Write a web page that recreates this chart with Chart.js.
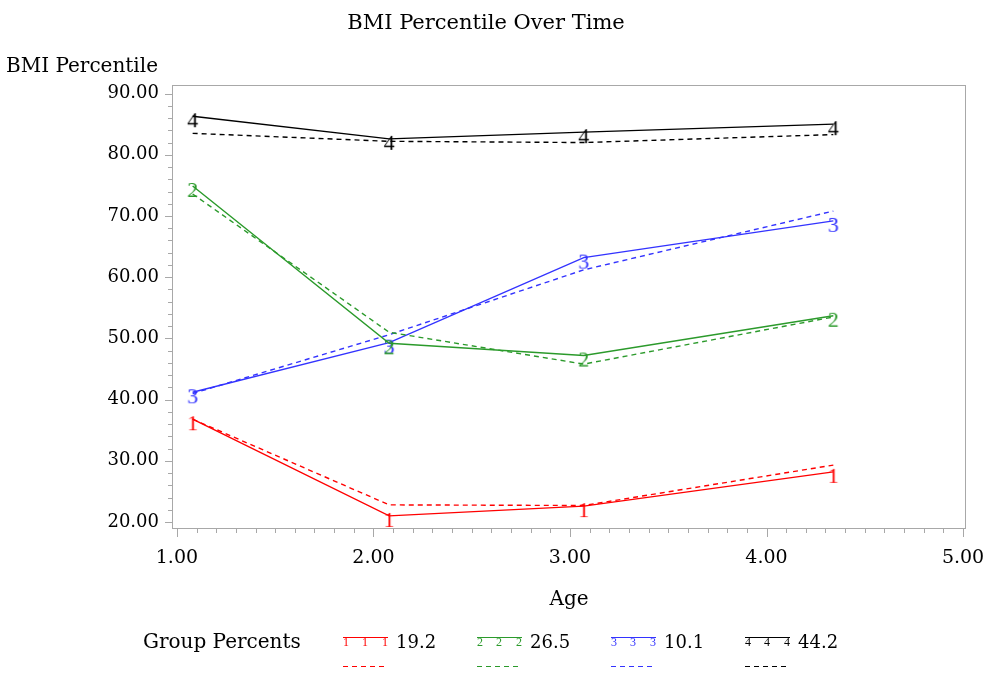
<!DOCTYPE html>
<html lang="en">
<head>
<meta charset="UTF-8">
<title>BMI Percentile Over Time</title>
<script src="https://cdn.jsdelivr.net/npm/chart.js@4.4.1/dist/chart.umd.min.js"></script>
<style>
  html, body { margin: 0; padding: 0; background: #fff; }
  #wrap { width: 985px; height: 673px; }
</style>
</head>
<body>
<div id="wrap"><canvas id="bmiChart" width="985" height="673"></canvas></div>
<script>
// ages at which the group means were taken
const ages = [1.08, 2.08, 3.07, 4.34];

// observed means (solid) and fitted trajectories (dashed)
const group1Obs = [36.8, 21.0, 22.6, 28.2];
const group1Fit = [36.8, 22.8, 22.7, 29.3];
const group2Obs = [74.9, 49.2, 47.2, 53.7];
const group2Fit = [73.6, 51.0, 45.8, 53.5];
const group3Obs = [41.2, 49.3, 63.2, 69.2];
const group3Fit = [41.0, 50.6, 61.2, 70.8];
const group4Obs = [86.3, 82.6, 83.7, 85.0];
const group4Fit = [83.5, 82.2, 82.0, 83.3];

const groupLabels = ['1', '2', '3', '4'];
const groupPercents = ['19.2', '26.5', '10.1', '44.2'];
const groupColors = ['#ff0000', '#2b9a2b', '#3333ff', '#000000'];

const yTicks = [20, 30, 40, 50, 60, 70, 80, 90];
const xTicks = [1, 2, 3, 4, 5];

const SERIF = '"DejaVu Serif", serif';
const MARK_FONT = '"Liberation Serif", serif';

// digit drawn as the point marker, sits just below the point
function digitMarker(ch, color) {
    const c = document.createElement('canvas');
    c.width = 16;
    c.height = 40;
    const g = c.getContext('2d');
    g.font = '22px ' + MARK_FONT;
    g.fillStyle = color;
    g.textAlign = 'center';
    g.textBaseline = 'alphabetic';
    g.fillText(ch, 8, 31);
    return c;
}

const obs = [group1Obs, group2Obs, group3Obs, group4Obs];
const fit = [group1Fit, group2Fit, group3Fit, group4Fit];

const datasets = [];
groupLabels.forEach((g, i) => {
    datasets.push({
        label: 'Group ' + g,
        data: ages.map((a, k) => ({ x: a, y: obs[i][k] })),
        borderColor: groupColors[i],
        backgroundColor: groupColors[i],
        borderWidth: 1.4,
        pointStyle: digitMarker(g, groupColors[i]),
        pointRadius: 8,
        tension: 0
    });
    datasets.push({
        label: 'Group ' + g + ' fitted',
        data: ages.map((a, k) => ({ x: a, y: fit[i][k] })),
        borderColor: groupColors[i],
        borderWidth: 1.4,
        borderDash: [5, 4],
        pointRadius: 0,
        tension: 0
    });
});

// plot frame plus major/minor tick marks
const frameTicks = {
    id: 'frameTicks',
    afterDraw(chart) {
        const { ctx, chartArea: a } = chart;
        const xs = chart.scales.x, ys = chart.scales.y;
        ctx.save();
        ctx.strokeStyle = '#a8a8a8';
        ctx.lineWidth = 1;
        ctx.strokeRect(a.left + 0.5, a.top + 0.5, a.right - a.left - 1, a.bottom - a.top - 1);
        ctx.beginPath();
        for (let v = 20; v <= 90; v += 2) {
            const y = Math.round(ys.getPixelForValue(v)) + 0.5;
            const len = v % 10 === 0 ? 7 : 4;
            ctx.moveTo(a.left, y);
            ctx.lineTo(a.left - len, y);
        }
        for (let k = 10; k <= 50; k++) {
            const x = Math.round(xs.getPixelForValue(k / 10)) + 0.5;
            const len = k % 10 === 0 ? 8 : 4;
            ctx.moveTo(x, a.bottom);
            ctx.lineTo(x, a.bottom + len);
        }
        ctx.stroke();
        ctx.restore();
    }
};

// two-row legend: observed line with markers above, fitted dashed line below
const groupLegend = {
    id: 'groupLegend',
    afterDraw(chart) {
        const ctx = chart.ctx;
        const y1 = 643, y2 = 666;
        ctx.save();
        ctx.textBaseline = 'middle';
        ctx.font = '20px ' + SERIF;
        ctx.fillStyle = '#000';
        ctx.fillText('Group Percents', 143, y1);
        groupLabels.forEach((g, i) => {
            const x = 343 + i * 134;
            const col = groupColors[i];
            ctx.strokeStyle = col;
            ctx.lineWidth = 1.2;
            ctx.setLineDash([]);
            ctx.beginPath();
            ctx.moveTo(x, y1 - 5.5);
            ctx.lineTo(x + 45, y1 - 5.5);
            ctx.stroke();
            ctx.font = '12px ' + MARK_FONT;
            ctx.fillStyle = col;
            ctx.textAlign = 'center';
            [3, 22, 42].forEach(dx => ctx.fillText(g, x + dx, y1));
            ctx.setLineDash([5, 4]);
            ctx.beginPath();
            ctx.moveTo(x, y2 + 0.5);
            ctx.lineTo(x + 45, y2 + 0.5);
            ctx.stroke();
            ctx.textAlign = 'left';
            ctx.font = '18px ' + SERIF;
            ctx.fillStyle = '#000';
            ctx.fillText(groupPercents[i], x + 53, y1);
        });
        ctx.restore();
    }
};

const ctx = document.getElementById('bmiChart').getContext('2d');
new Chart(ctx, {
    type: 'line',
    data: { datasets: datasets },
    options: {
        responsive: false,
        animation: false,
        events: [],
        layout: { padding: { left: 6, right: 19, top: 0, bottom: 53 } },
        scales: {
            x: {
                type: 'linear',
                min: 0.975,
                max: 5.015,
                afterBuildTicks: s => { s.ticks = xTicks.map(v => ({ value: v })); },
                afterFit: s => { s.height = 91; s.paddingLeft = 0; s.paddingRight = 0; },
                grid: { display: false, drawTicks: false },
                border: { display: false },
                ticks: {
                    padding: 18,
                    color: '#000',
                    font: { family: SERIF, size: 19 },
                    callback: v => v.toFixed(2)
                },
                title: {
                    display: true,
                    text: 'Age',
                    color: '#000',
                    font: { family: SERIF, size: 20 },
                    padding: { top: 0, bottom: 8 }
                }
            },
            y: {
                min: 18.86,
                max: 91.4,
                afterBuildTicks: s => { s.ticks = yTicks.map(v => ({ value: v })); },
                afterFit: s => { s.width = 166; s.paddingTop = 0; s.paddingBottom = 0; },
                grid: { display: false, drawTicks: false },
                border: { display: false },
                ticks: {
                    padding: 13,
                    color: '#000',
                    font: { family: SERIF, size: 18 },
                    callback: v => v.toFixed(2)
                }
            }
        },
        plugins: {
            legend: { display: false },
            tooltip: { enabled: false },
            title: {
                display: true,
                text: 'BMI Percentile Over Time',
                color: '#000',
                font: { family: SERIF, size: 21, weight: 'normal' },
                padding: { top: 11.4, bottom: 0 }
            },
            subtitle: {
                display: true,
                text: 'BMI Percentile',
                align: 'start',
                color: '#000',
                font: { family: SERIF, size: 20, weight: 'normal' },
                padding: { top: 18.4, bottom: 6 }
            }
        }
    },
    plugins: [frameTicks, groupLegend]
});
</script>
</body>
</html>
